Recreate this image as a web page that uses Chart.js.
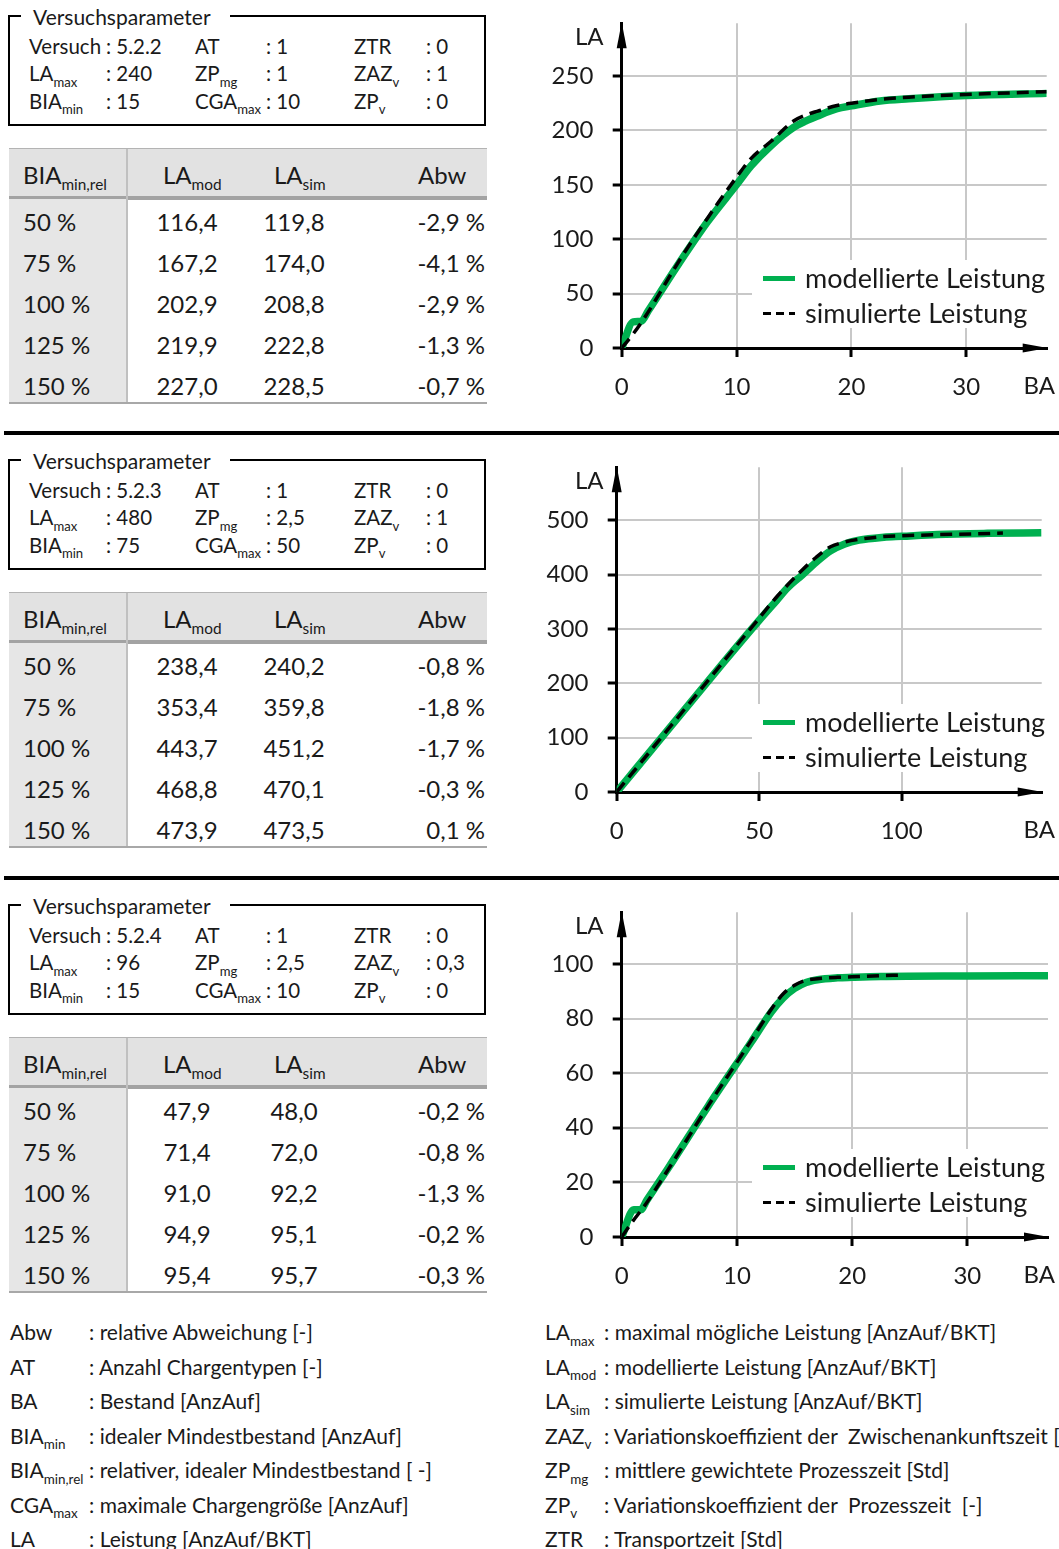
<!DOCTYPE html>
<html lang="de">
<head>
<meta charset="utf-8">
<title>Leistungskennlinien</title>
<script src="https://cdn.jsdelivr.net/npm/chart.js@4.4.1/dist/chart.umd.min.js"></script>
<style>
  html, body { margin: 0; padding: 0; background: #fff; }
  body { width: 1059px; height: 1549px; position: relative; overflow: hidden;
         font-family: Lato, "Noto Sans", sans-serif; color: #1a1a1a; }
  .t { position: absolute; white-space: pre; }
  .t sub { font-size: 64%; vertical-align: baseline; position: relative; top: 0.42em; line-height: 0; }
  .r { position: absolute; }
  canvas.kl { position: absolute; left: 540px; }
</style>
</head>
<body>
<canvas class="kl" id="kl0" width="519" height="420" style="top:0px"></canvas>
<canvas class="kl" id="kl1" width="519" height="420" style="top:444px"></canvas>
<canvas class="kl" id="kl2" width="519" height="420" style="top:889px"></canvas>
<script>
// ---- Versuchsparameter je Versuch ----
const versuch = ['5.2.2', '5.2.3', '5.2.4'];
const laMax   = ['240', '480', '96'];
const biaMin  = ['15', '75', '15'];
const at      = ['1', '1', '1'];
const zpMg    = ['1', '2,5', '2,5'];
const cgaMax  = ['10', '50', '10'];
const ztr     = ['0', '0', '0'];
const zazV    = ['1', '1', '0,3'];
const zpV     = ['0', '0', '0'];

// ---- Ergebnistabellen ----
const biaRel   = ['50 %', '75 %', '100 %', '125 %', '150 %'];
const laModTab = [[116.4, 167.2, 202.9, 219.9, 227.0],
                  [238.4, 353.4, 443.7, 468.8, 473.9],
                  [47.9, 71.4, 91.0, 94.9, 95.4]];
const laSimTab = [[119.8, 174.0, 208.8, 222.8, 228.5],
                  [240.2, 359.8, 451.2, 470.1, 473.5],
                  [48.0, 72.0, 92.2, 95.1, 95.7]];
const abwTab   = [[-2.9, -4.1, -2.9, -1.3, -0.7],
                  [-0.8, -1.8, -1.7, -0.3, 0.1],
                  [-0.2, -0.8, -1.3, -0.2, -0.3]];

// ---- Kennlinien: Bestand (BA) und Leistung (LA) ----
const ba1Mod = [0, 1, 1.7, 2.3, 5, 7.5, 10, 11.25, 13, 15, 16, 17, 18.75, 20, 22.5, 25, 30, 37];
const la1Mod = [0, 24, 24.5, 34, 78, 116.4, 150, 167.2, 186, 202.9, 208.5, 213, 219.9, 222.5, 227.0, 229, 232, 234];
const ba1Sim = [0, 1, 2, 5, 7.5, 10, 11.25, 13, 15, 16, 17, 18.75, 20, 22.5, 25, 30, 37];
const la1Sim = [0, 13, 28, 80, 119.8, 157, 174.0, 190, 208.8, 214, 217.5, 222.8, 225, 228.5, 230.5, 233, 235.5];

const ba2Mod = [0, 20, 37.5, 50, 56.25, 60, 65, 70, 75, 80, 85, 93.75, 100, 112.5, 130, 149];
const la2Mod = [0, 127, 238.4, 316, 353.4, 376, 399, 423, 443.7, 456.5, 463.5, 468.8, 470.5, 473.9, 476, 477];
const ba2Sim = [0, 20, 37.5, 50, 56.25, 65, 70, 75, 80, 85, 93.75, 100, 112.5, 125, 135.5];
const la2Sim = [0, 128, 240.2, 320, 359.8, 408, 432, 451.2, 460, 465, 470.1, 471.5, 473.5, 475, 476.5];

const ba3Mod = [0, 1.05, 1.65, 2.2, 4, 7.5, 11.25, 13, 14, 15, 16, 17, 18.75, 20, 22.5, 30, 37.3];
const la3Mod = [0, 10, 10, 13.6, 25, 47.9, 71.4, 82.5, 87.5, 91.0, 93.2, 94.2, 94.9, 95.1, 95.4, 95.6, 95.7];
const ba3Sim = [0, 1, 2, 4, 7.5, 11.25, 13, 14, 15, 16, 17, 18.75, 20, 22.5, 24.1];
const la3Sim = [0, 6, 11.5, 24.5, 48.0, 72.0, 83.5, 89, 92.2, 94, 94.6, 95.1, 95.3, 95.7, 95.9];

// ---- Achsen: Teilstriche und Bereichsenden ----
const xTicks = [[0, 10, 20, 30], [0, 50, 100], [0, 10, 20, 30]];
const yTicks = [[0, 50, 100, 150, 200, 250], [0, 100, 200, 300, 400, 500], [0, 20, 40, 60, 80, 100]];
const xMaxima = [37, 149.1, 37];
const yMaxima = [298.4, 597.5, 118.9];

// ---- Abkuerzungsverzeichnis ----
const glossLinks = [
  ['Abw', ': relative Abweichung [-]'],
  ['AT', ': Anzahl Chargentypen [-]'],
  ['BA', ': Bestand [AnzAuf]'],
  ['BIA<sub>min</sub>', ': idealer Mindestbestand [AnzAuf]'],
  ['BIA<sub>min,rel</sub>', ': relativer, idealer Mindestbestand [ -]'],
  ['CGA<sub>max</sub>', ': maximale Chargengröße [AnzAuf]'],
  ['LA', ': Leistung [AnzAuf/BKT]']
];
const glossRechts = [
  ['LA<sub>max</sub>', ': maximal mögliche Leistung [AnzAuf/BKT]'],
  ['LA<sub>mod</sub>', ': modellierte Leistung [AnzAuf/BKT]'],
  ['LA<sub>sim</sub>', ': simulierte Leistung [AnzAuf/BKT]'],
  ['ZAZ<sub>v</sub>', ': Variationskoeffizient der  Zwischenankunftszeit [-]'],
  ['ZP<sub>mg</sub>', ': mittlere gewichtete Prozesszeit [Std]'],
  ['ZP<sub>v</sub>', ': Variationskoeffizient der  Prozesszeit  [-]'],
  ['ZTR', ': Transportzeit [Std]']
];

const panelOffset = [0, 444, 889];

// ---------- Hilfsfunktionen fuer Text und Flaechen ----------
function text(html, x, cy, size, align) {
  const d = document.createElement('div');
  d.className = 't';
  const lh = Math.round(size * 1.3);
  d.style.fontSize = size + 'px';
  d.style.lineHeight = lh + 'px';
  d.style.height = lh + 'px';
  d.style.top = (cy - lh / 2) + 'px';
  if (align === 'right') {
    d.style.right = (1059 - x) + 'px';
    d.style.textAlign = 'right';
  } else if (align === 'center') {
    d.style.left = (x - 100) + 'px';
    d.style.width = '200px';
    d.style.textAlign = 'center';
  } else {
    d.style.left = x + 'px';
  }
  d.innerHTML = html;
  document.body.appendChild(d);
  return d;
}
function rect(x, y, w, h, css) {
  const d = document.createElement('div');
  d.className = 'r';
  d.style.left = x + 'px'; d.style.top = y + 'px';
  d.style.width = w + 'px'; d.style.height = h + 'px';
  Object.assign(d.style, css);
  document.body.appendChild(d);
  return d;
}
const fmt = v => v.toFixed(1).replace('.', ',');

// ---------- Parameterkasten und Tabelle je Versuch ----------
panelOffset.forEach((o, k) => {
  // Rahmen
  rect(8, 15 + o, 478, 111, { border: '2.5px solid #000', boxSizing: 'border-box' });
  rect(21, 10 + o, 209, 14, { background: '#fff' });
  text('Versuchsparameter', 33, 16.5 + o, 21);

  const rowsY = [46, 73.5, 101];
  const labX = [29, 195, 354];
  const valX = [106, 266, 426];
  const grid = [
    [['Versuch', versuch[k]], ['AT', at[k]], ['ZTR', ztr[k]]],
    [['LA<sub>max</sub>', laMax[k]], ['ZP<sub>mg</sub>', zpMg[k]], ['ZAZ<sub>v</sub>', zazV[k]]],
    [['BIA<sub>min</sub>', biaMin[k]], ['CGA<sub>max</sub>', cgaMax[k]], ['ZP<sub>v</sub>', zpV[k]]]
  ];
  grid.forEach((row, r) => {
    row.forEach((cell, c) => {
      text(cell[0], labX[c], rowsY[r] + o, 20.5);
      text(': ' + cell[1], valX[c], rowsY[r] + o, 20.5);
    });
  });

  // Tabelle
  rect(9, 147.5 + o, 478, 2, { background: '#b3b3b3' });
  rect(9, 149 + o, 478, 47, { background: '#e2e2e2' });
  rect(9, 196 + o, 478, 3.5, { background: '#a3a3a3' });
  rect(9, 199 + o, 117, 203, { background: '#e6e6e6' });
  rect(126, 149 + o, 2, 253, { background: '#c0c0c0' });
  rect(9, 401.5 + o, 478, 2, { background: '#a8a8a8' });

  text('BIA<sub>min,rel</sub>', 23, 174 + o, 24);
  text('LA<sub>mod</sub>', 163, 174 + o, 24);
  text('LA<sub>sim</sub>', 274, 174 + o, 24);
  text('Abw', 418, 174 + o, 24);

  biaRel.forEach((b, i) => {
    const cy = 221 + i * 41 + o;
    text(b, 23, cy, 24);
    text(fmt(laModTab[k][i]), 187, cy, 24, 'center');
    text(fmt(laSimTab[k][i]), 294, cy, 24, 'center');
    text(fmt(abwTab[k][i]) + ' %', 485, cy, 24, 'right');
  });
});

// Trennlinien zwischen den Versuchen
rect(4, 431, 1055, 3.5, { background: '#000' });
rect(4, 876, 1055, 3.5, { background: '#000' });

// Abkuerzungen
glossLinks.forEach((g, i) => {
  const cy = 1331.5 + i * 34.5;
  text(g[0], 10, cy, 21);
  text(g[1], 89, cy, 21);
});
glossRechts.forEach((g, i) => {
  const cy = 1331.5 + i * 34.5;
  text(g[0], 545, cy, 21);
  text(g[1], 604, cy, 21);
});

// ---------- Diagramme ----------
Chart.defaults.font.family = 'Lato';
Chart.defaults.color = '#1a1a1a';

const GRUEN = '#00b050';
const RASTER = '#c8c8c8';

// Pfeilspitzen an den Achsen und Achsenbezeichnungen LA / BA
const achsenPfeile = {
  id: 'achsenPfeile',
  afterDraw(chart) {
    const { ctx, chartArea: a } = chart;
    ctx.save();
    ctx.fillStyle = '#000';
    ctx.beginPath();
    ctx.moveTo(a.left, a.top - 1);
    ctx.lineTo(a.left - 5, a.top + 25);
    ctx.lineTo(a.left + 5, a.top + 25);
    ctx.closePath();
    ctx.fill();
    ctx.beginPath();
    ctx.moveTo(a.right + 1, a.bottom);
    ctx.lineTo(a.right - 24, a.bottom - 4.5);
    ctx.lineTo(a.right - 24, a.bottom + 4.5);
    ctx.closePath();
    ctx.fill();
    ctx.fillStyle = '#1a1a1a';
    ctx.font = '24px Lato';
    ctx.textAlign = 'right';
    ctx.textBaseline = 'alphabetic';
    ctx.fillText('LA', 63.5, 36 + 8.6);
    ctx.fillText('BA', 515, 385 + 8.6);
    ctx.restore();
  }
};

// Legende im Diagrammfeld mit weisser Hinterlegung
const kurvenLegende = {
  id: 'kurvenLegende',
  beforeDatasetsDraw(chart) {
    const { ctx, chartArea: a } = chart;
    const b = a.bottom;
    ctx.save();
    ctx.fillStyle = '#fff';
    ctx.fillRect(212, b - 88, a.right - 212 + 2, 68);
    const zeilen = [b - 69.5, b - 34.5];
    chart.data.datasets.forEach((d, i) => {
      ctx.beginPath();
      ctx.strokeStyle = d.borderColor;
      ctx.lineWidth = i === 0 ? 5 : 3;
      ctx.setLineDash(i === 0 ? [] : [8, 5]);
      ctx.moveTo(223, zeilen[i]);
      ctx.lineTo(255, zeilen[i]);
      ctx.stroke();
      ctx.setLineDash([]);
      ctx.fillStyle = '#1a1a1a';
      ctx.font = '27px Lato';
      ctx.textAlign = 'left';
      ctx.textBaseline = 'alphabetic';
      ctx.fillText(d.label, 265, zeilen[i] + 9.5);
    });
    ctx.restore();
  }
};

const kurven = [
  [ba1Mod, la1Mod, ba1Sim, la1Sim],
  [ba2Mod, la2Mod, ba2Sim, la2Sim],
  [ba3Mod, la3Mod, ba3Sim, la3Sim]
];
const achseLinks = [81.7, 76.7, 81.7];
const randRechts = [12.3, 17.3, 11];

const punkte = (xs, ys) => xs.map((x, i) => ({ x, y: ys[i] }));

kurven.forEach((kv, k) => {
  const rasterFarbe = ctx => (ctx.tick && ctx.tick.value === 0) ? 'rgba(0,0,0,0)' : RASTER;
  new Chart(document.getElementById('kl' + k), {
    type: 'line',
    data: {
      datasets: [
        {
          label: 'modellierte Leistung',
          data: punkte(kv[0], kv[1]),
          borderColor: GRUEN,
          borderWidth: 7.5,
          borderJoinStyle: 'round',
          cubicInterpolationMode: 'monotone',
          pointRadius: 0,
          fill: false,
          order: 2
        },
        {
          label: 'simulierte Leistung',
          data: punkte(kv[2], kv[3]),
          borderColor: '#000',
          borderWidth: 3.5,
          borderDash: [12, 7],
          cubicInterpolationMode: 'monotone',
          pointRadius: 0,
          fill: false,
          order: 1
        }
      ]
    },
    options: {
      responsive: false,
      maintainAspectRatio: false,
      animation: false,
      events: [],
      layout: { padding: { top: 23.3, right: randRechts[k], left: 0, bottom: 0 } },
      plugins: { legend: { display: false }, tooltip: { enabled: false } },
      scales: {
        x: {
          type: 'linear',
          min: 0,
          max: xMaxima[k],
          afterBuildTicks(s) { s.ticks = xTicks[k].map(v => ({ value: v })); },
          afterFit(s) { s.height = 72; s.paddingLeft = 0; s.paddingRight = 0; },
          ticks: { font: { size: 24 }, padding: 16, maxRotation: 0, autoSkip: false },
          grid: { color: rasterFarbe, lineWidth: 2, tickColor: '#000', tickWidth: 3, tickLength: 9 },
          border: { color: '#000', width: 3 }
        },
        y: {
          type: 'linear',
          min: 0,
          max: yMaxima[k],
          afterBuildTicks(s) { s.ticks = yTicks[k].map(v => ({ value: v })); },
          afterFit(s) { s.width = achseLinks[k]; s.paddingTop = 0; s.paddingBottom = 0; },
          ticks: { font: { size: 24 }, padding: 19.4, autoSkip: false },
          grid: { color: rasterFarbe, lineWidth: 2, tickColor: '#000', tickWidth: 3, tickLength: 9 },
          border: { color: '#000', width: 3 }
        }
      }
    },
    plugins: [kurvenLegende, achsenPfeile]
  });
});
</script>
</body>
</html>
